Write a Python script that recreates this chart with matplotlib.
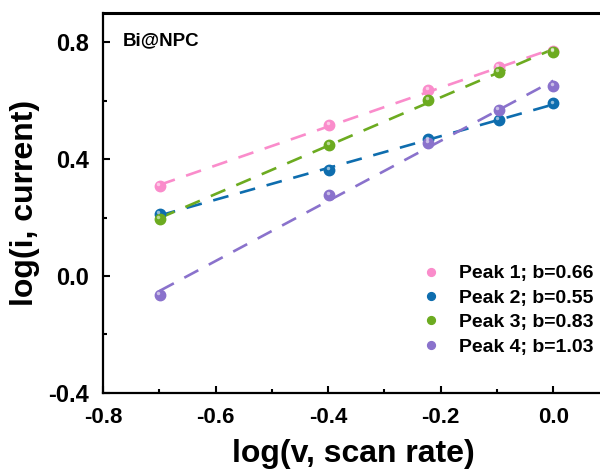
import numpy as np
import matplotlib.pyplot as plt
from matplotlib.ticker import MultipleLocator
from matplotlib.transforms import offset_copy

plt.rcParams['font.family'] = ['Liberation Sans', 'DejaVu Sans']
plt.rcParams['font.weight'] = 'bold'
plt.rcParams['axes.unicode_minus'] = False

# log(scan rate)
log_v = [-0.699, -0.398, -0.222, -0.097, 0.0]

# log(peak current)
peak1 = [0.308, 0.517, 0.637, 0.717, 0.770]
peak2 = [0.212, 0.363, 0.468, 0.534, 0.591]
peak3 = [0.195, 0.449, 0.603, 0.700, 0.768]
peak4 = [-0.065, 0.277, 0.455, 0.569, 0.651]

labels = ['Peak 1; b=0.66', 'Peak 2; b=0.55', 'Peak 3; b=0.83', 'Peak 4; b=1.03']
colores = ['#FA8CCB', '#0E6DAE', '#6CAB20', '#8A72CC']

fig = plt.figure(figsize=(6, 4.7), dpi=100)
ax = fig.add_axes([0.1717, 0.164, 0.835, 0.808])

x = np.array(log_v)
for serie, nome, cor in zip([peak1, peak2, peak3, peak4], labels, colores):
	y = np.array(serie)
	# reta ajustada
	a, b = np.polyfit(x, y, 1)
	xs = np.array([x.min(), x.max()])
	ax.plot(xs, a * xs + b, color=cor, lw=1.9, linestyle=(0, (6, 4.5)), zorder=2)
	ax.plot(x, y, 'o', color=cor, ms=7.5, mec=cor, label=nome, zorder=3)
	# brilho da bolinha
	tr = offset_copy(ax.transData, fig=fig, x=-1.2, y=1.2, units='points')
	ax.plot(x, y, 'o', color='white', alpha=0.55, ms=2.5, mew=0, transform=tr, zorder=4)

ax.set_xlim(-0.8, 0.09)
ax.set_ylim(-0.4, 0.9)
ax.xaxis.set_major_locator(MultipleLocator(0.2))
ax.xaxis.set_minor_locator(MultipleLocator(0.1))
ax.yaxis.set_major_locator(MultipleLocator(0.4))
ax.yaxis.set_minor_locator(MultipleLocator(0.2))
ax.tick_params(which='both', direction='in', width=1.5)
ax.tick_params(which='major', length=5)
ax.tick_params(which='minor', length=3)
ax.tick_params(axis='x', labelsize=16, pad=10)
ax.tick_params(axis='y', labelsize=17, pad=10)
for lado in ['left', 'bottom', 'top', 'right']:
	ax.spines[lado].set_linewidth(1.6)
ax.spines['top'].set_linewidth(2.2)

ax.set_xlabel('log(v, scan rate)', fontsize=23, fontweight='bold', labelpad=8)
ax.set_ylabel('log(i, current)', fontsize=23, fontweight='bold', labelpad=6)

ax.text(0.04, 0.95, 'Bi@NPC', transform=ax.transAxes, fontsize=13.5, fontweight='bold', va='top')

ax.legend(loc='lower right', bbox_to_anchor=(1.014, 0.052), frameon=False, fontsize=14,
	handlelength=0.6, handletextpad=1.15, labelspacing=0.35, markerscale=0.75)

plt.savefig('out.png', dpi=100)
